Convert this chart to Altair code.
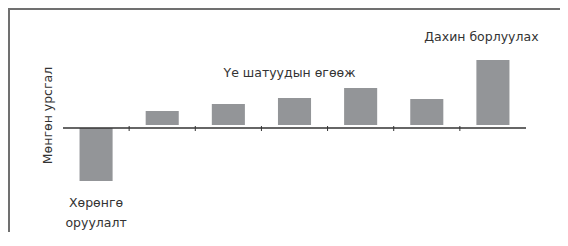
import altair as alt
import pandas as pd

# ---- data ----
categories = ["1", "2", "3", "4", "5", "6", "7"]
values = [-53, 17, 24, 30, 40, 29, 68]
label_cats = ["1", "4", "7"]
label_texts = ["Хөрөнгө\nоруулалт", "Үе шатуудын өгөөж", "Дахин борлуулах"]
y_title = "Мөнгөн урсгал"

df = pd.DataFrame({"cat": categories, "value": values})
lab = dict(zip(label_cats, label_texts))
df["label"] = [lab.get(c, "") for c in categories]

PW, PH = 463, 220
BAR = "#939598"
INK = "#333333"
FONT = "DejaVu Sans"
FS = 12.5

xs = alt.X("cat:N", sort=categories, axis=None,
           scale=alt.Scale(domain=categories, paddingInner=0.5, paddingOuter=0.25))
ysc = alt.Scale(domain=[-100, 120])

base = alt.Chart(df)

neg = base.mark_bar(color=BAR).encode(
    x=xs,
    y=alt.Y("value:Q", scale=ysc,
            axis=alt.Axis(domain=False, ticks=False, labels=False, grid=False,
                          title=y_title, titleX=-16, titleY=107, titleAngle=270,
                          titleAlign="center", titleBaseline="middle",
                          titleFont=FONT, titleFontSize=FS, titleFontWeight="normal",
                          titleColor=INK)),
    y2=alt.datum(0),
).transform_filter("datum.value < 0")

pos = base.mark_bar(color=BAR, y2Offset=-3).encode(
    x=xs, y=alt.Y("value:Q", scale=ysc), y2=alt.datum(0)
).transform_filter("datum.value > 0")

axis_line = base.mark_rule(color=INK, strokeWidth=1.5).encode(
    y=alt.datum(0), x=alt.value(0), x2=alt.value(PW)
).transform_filter("datum.cat == '1'")

ticks = base.mark_rule(color=INK, strokeWidth=1).encode(
    x=alt.X("cat:N", sort=categories, axis=None, bandPosition=0,
            scale=alt.Scale(domain=categories, paddingInner=0, paddingOuter=0)),
    y=alt.datum(2), y2=alt.datum(-3),
).transform_filter("datum.cat != '1'")

txt_kw = dict(font=FONT, fontSize=FS, color=INK, lineBreak="\n", baseline="middle")
lab1 = base.mark_text(dy=22, lineHeight=20, **txt_kw).encode(
    x=xs, y=alt.Y("value:Q", scale=ysc), text="label:N"
).transform_filter("datum.cat == '1'")
lab2 = base.mark_text(dy=-25, dx=-5, **txt_kw).encode(
    x=xs, y=alt.Y("value:Q", scale=ysc), text="label:N"
).transform_filter("datum.cat == '4'")
lab3 = base.mark_text(dy=-23, dx=-11.5, **txt_kw).encode(
    x=xs, y=alt.Y("value:Q", scale=ysc), text="label:N"
).transform_filter("datum.cat == '7'")

frame_top = base.mark_rule(color="#707070", strokeWidth=2).encode(
    x=alt.value(-55), x2=alt.value(PW + 34), y=alt.value(1)
).transform_filter("datum.cat == '1'")
frame_left = base.mark_rule(color="#707070", strokeWidth=2).encode(
    x=alt.value(-54), y=alt.value(0), y2=alt.value(PH + 4)
).transform_filter("datum.cat == '1'")

chart = alt.layer(
    frame_top, frame_left, neg, pos, axis_line, ticks, lab1, lab2, lab3
).resolve_scale(x="independent").properties(
    width=PW, height=PH,
    autosize=alt.AutoSizeParams(type="none"),
    padding={"left": 55, "top": 0, "right": 34, "bottom": 4},
    background="white",
).configure_view(stroke=None)

chart.save("out.html", embed_options={"renderer": "svg", "actions": False})
